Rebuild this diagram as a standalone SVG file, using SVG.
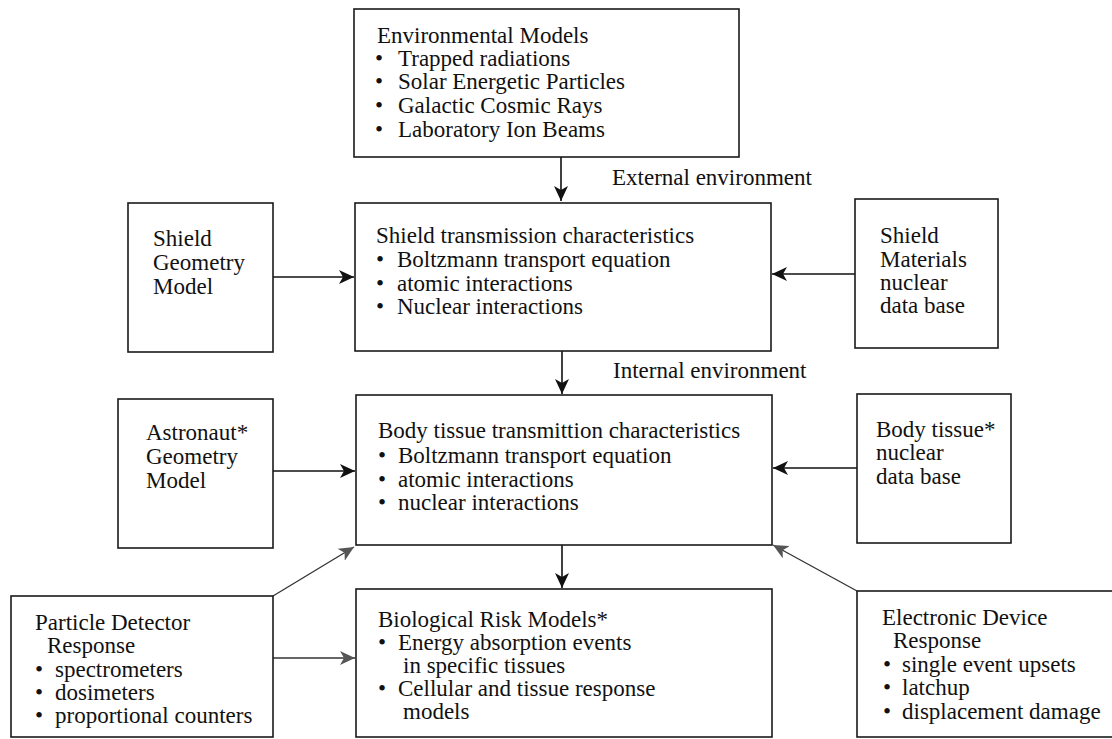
<svg xmlns="http://www.w3.org/2000/svg" width="1112" height="739" viewBox="0 0 1112 739">
<defs>
<style>
.box{fill:#fff;stroke:#1a1a1a;stroke-width:1.6}
.t{font-family:"Liberation Serif","Times New Roman",serif;font-size:23px;fill:#111}
.c{stroke:#111;stroke-width:1.6;fill:none}
.g{stroke:#333;stroke-width:1.3;fill:none}
</style>
<marker id="ah" markerUnits="userSpaceOnUse" markerWidth="16" markerHeight="14" refX="15" refY="7" orient="auto">
<path d="M0,0 L15,7 L0,14 L4,7 z" fill="#111"/>
</marker>
<marker id="ahg" markerUnits="userSpaceOnUse" markerWidth="16" markerHeight="14" refX="15" refY="7" orient="auto">
<path d="M0,0 L15,7 L0,14 L4,7 z" fill="#555"/>
</marker>
</defs>
<rect width="1112" height="739" fill="#fff"/>

<g id="connectors">
<line class="c" x1="561" y1="157" x2="561" y2="201" marker-end="url(#ah)"/>
<line class="c" x1="562" y1="351" x2="562" y2="394" marker-end="url(#ah)"/>
<line class="c" x1="562" y1="544" x2="562" y2="588" marker-end="url(#ah)"/>
<line class="c" x1="273" y1="277" x2="354" y2="277" marker-end="url(#ah)"/>
<line class="c" x1="855" y1="274" x2="772" y2="274" marker-end="url(#ah)"/>
<line class="c" x1="273" y1="471" x2="355" y2="471" marker-end="url(#ah)"/>
<line class="c" x1="857" y1="468" x2="773" y2="468" marker-end="url(#ah)"/>
<line class="g" x1="273" y1="658" x2="355" y2="658" marker-end="url(#ahg)"/>
<line class="g" x1="273" y1="596" x2="354" y2="547" marker-end="url(#ahg)"/>
<line class="g" x1="857" y1="591" x2="773" y2="545" marker-end="url(#ahg)"/>
<text class="t" x="612" y="185">External environment</text>
<text class="t" x="613" y="378">Internal environment</text>
</g>

<g id="env-models">
<rect class="box" x="354" y="9" width="385" height="148"/>
<text class="t" x="377" y="43">Environmental Models</text>
<text class="t" x="375" y="66">•</text><text class="t" x="398" y="66">Trapped radiations</text>
<text class="t" x="375" y="89">•</text><text class="t" x="398" y="89">Solar Energetic Particles</text>
<text class="t" x="375" y="113">•</text><text class="t" x="398" y="113">Galactic Cosmic Rays</text>
<text class="t" x="375" y="137">•</text><text class="t" x="398" y="137">Laboratory Ion Beams</text>
</g>

<g id="shield-geometry">
<rect class="box" x="128" y="203" width="145" height="149"/>
<text class="t" x="153" y="246">Shield</text>
<text class="t" x="153" y="270">Geometry</text>
<text class="t" x="153" y="294">Model</text>
</g>

<g id="shield-transmission">
<rect class="box" x="355" y="203" width="416" height="148"/>
<text class="t" x="376" y="243">Shield transmission characteristics</text>
<text class="t" x="376" y="267">•</text><text class="t" x="397" y="267">Boltzmann transport equation</text>
<text class="t" x="376" y="291">•</text><text class="t" x="397" y="291">atomic interactions</text>
<text class="t" x="376" y="314">•</text><text class="t" x="397" y="314">Nuclear interactions</text>
</g>

<g id="shield-materials">
<rect class="box" x="855" y="199" width="143" height="149"/>
<text class="t" x="880" y="243">Shield</text>
<text class="t" x="880" y="267">Materials</text>
<text class="t" x="880" y="290">nuclear</text>
<text class="t" x="880" y="313">data base</text>
</g>

<g id="astronaut-geometry">
<rect class="box" x="118" y="399" width="155" height="149"/>
<text class="t" x="146" y="440">Astronaut*</text>
<text class="t" x="146" y="464">Geometry</text>
<text class="t" x="146" y="488">Model</text>
</g>

<g id="body-transmission">
<rect class="box" x="356" y="395" width="416" height="150"/>
<text class="t" x="378" y="438">Body tissue transmittion characteristics</text>
<text class="t" x="378" y="463">•</text><text class="t" x="398" y="463">Boltzmann transport equation</text>
<text class="t" x="378" y="487">•</text><text class="t" x="398" y="487">atomic interactions</text>
<text class="t" x="378" y="510">•</text><text class="t" x="398" y="510">nuclear interactions</text>
</g>

<g id="body-tissue-data">
<rect class="box" x="857" y="394" width="154" height="149"/>
<text class="t" x="876" y="437">Body tissue*</text>
<text class="t" x="876" y="460">nuclear</text>
<text class="t" x="876" y="484">data base</text>
</g>

<g id="particle-detector">
<rect class="box" x="11" y="596" width="262" height="141"/>
<text class="t" x="35" y="630">Particle Detector</text>
<text class="t" x="47" y="653">Response</text>
<text class="t" x="35" y="677">•</text><text class="t" x="55" y="677">spectrometers</text>
<text class="t" x="35" y="700">•</text><text class="t" x="55" y="700">dosimeters</text>
<text class="t" x="35" y="723">•</text><text class="t" x="55" y="723">proportional counters</text>
</g>

<g id="bio-risk">
<rect class="box" x="356" y="589" width="416" height="148"/>
<text class="t" x="378" y="627">Biological Risk Models*</text>
<text class="t" x="378" y="650">•</text><text class="t" x="398" y="650">Energy absorption events</text>
<text class="t" x="403" y="673">in specific tissues</text>
<text class="t" x="378" y="696">•</text><text class="t" x="398" y="696">Cellular and tissue response</text>
<text class="t" x="403" y="719">models</text>
</g>

<g id="electronic-device">
<rect class="box" x="857" y="591" width="260" height="146"/>
<text class="t" x="882" y="625">Electronic Device</text>
<text class="t" x="893" y="648">Response</text>
<text class="t" x="883" y="672">•</text><text class="t" x="902" y="672">single event upsets</text>
<text class="t" x="883" y="695">•</text><text class="t" x="902" y="695">latchup</text>
<text class="t" x="883" y="719">•</text><text class="t" x="902" y="719">displacement damage</text>
</g>
</svg>
